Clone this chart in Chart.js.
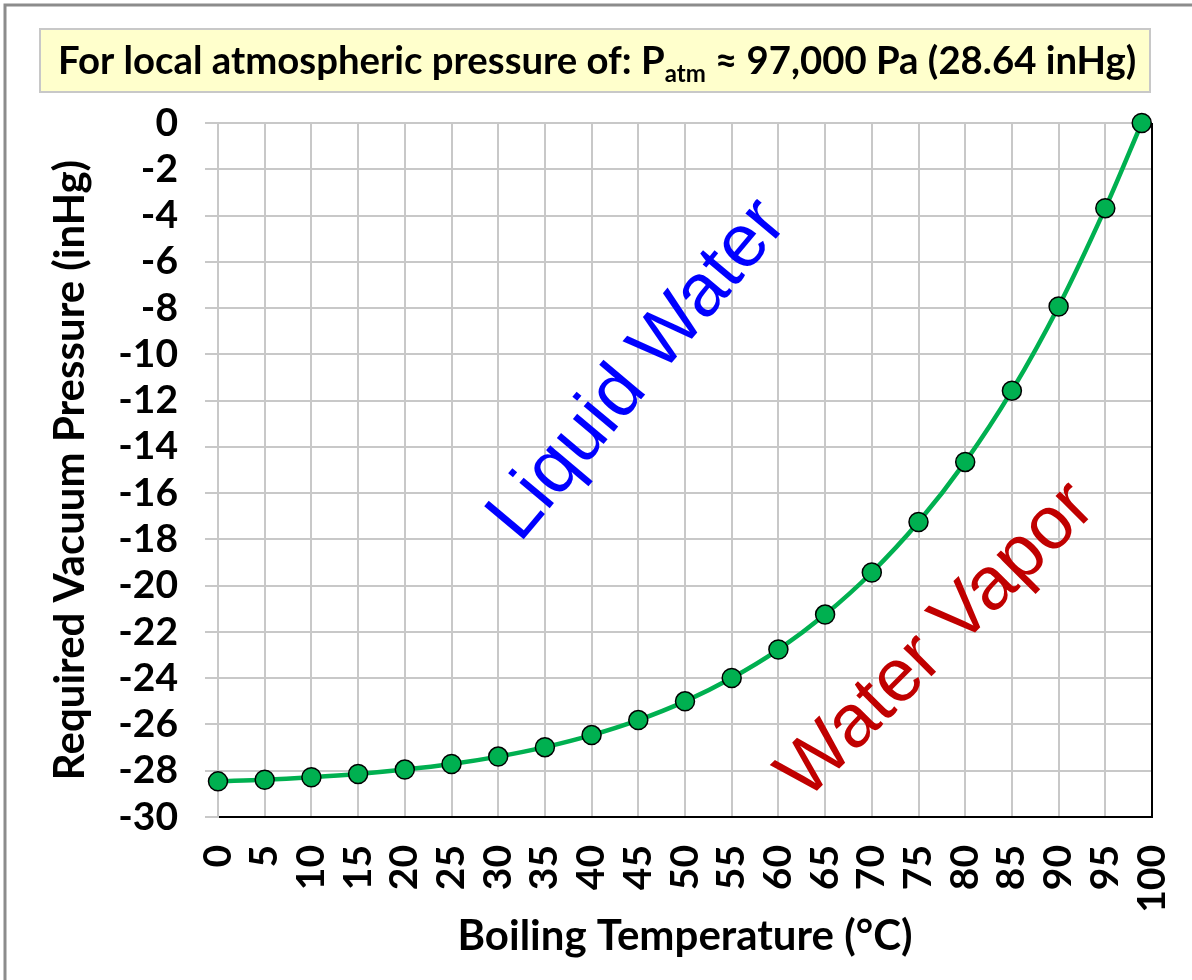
<!DOCTYPE html>
<html>
<head>
<meta charset="utf-8">
<script src="https://cdn.jsdelivr.net/npm/chart.js@4.4.1/dist/chart.umd.min.js"></script>
<style>
  html, body { margin: 0; padding: 0; background: #fff; }
  #wrap { width: 1192px; height: 980px; position: relative; }
</style>
</head>
<body>
<div id="wrap"><canvas id="myChart" width="1192" height="980"></canvas></div>
<script>
// Boiling temperature (°C) and required vacuum pressure (inHg)
const temps = [0, 5, 10, 15, 20, 25, 30, 35, 40, 45, 50, 55, 60, 65, 70, 75, 80, 85, 90, 95, 98.9];
const vacuum = [-28.46, -28.39, -28.28, -28.14, -27.95, -27.71, -27.39, -26.98, -26.46, -25.81,
                -25.00, -23.99, -22.76, -21.25, -19.43, -17.25, -14.65, -11.57, -7.93, -3.68, 0];

const titleMain = 'For local atmospheric pressure of: P';
const titleSub = 'atm';
const titleRest = ' \u2248 97,000 Pa (28.64 inHg)';

const xTitle = 'Boiling Temperature (\u00B0C)';
const yTitle = 'Required Vacuum Pressure (inHg)';

// region labels: [text, x value, y value, colour, angle]
const regionLabels = [
    ['Liquid Water', 45, -10.7, '#0000FF', -50],
    ['Water Vapor', 77, -22.4, '#C00000', -45]
];

const FONT = 'Lato, "Open Sans", sans-serif';
const gridColor = '#c8c8c8';

// frame, title box and region labels
const decorPlugin = {
    id: 'decor',
    beforeDraw(chart) {
        const c = chart.ctx;
        c.save();
        c.fillStyle = '#fff';
        c.fillRect(0, 0, chart.width, chart.height);
        c.strokeStyle = '#8c8c8c';
        c.lineWidth = 3;
        c.beginPath();
        c.moveTo(5, chart.height);
        c.lineTo(5, 5);
        c.lineTo(chart.width, 5);
        c.stroke();

        // title box
        c.fillStyle = '#FFFFCC';
        c.fillRect(40, 29, 1110, 63);
        c.strokeStyle = '#c8c8c8';
        c.lineWidth = 2;
        c.strokeRect(40, 29, 1110, 63);

        let size = 34;
        const measure = (s) => {
            c.font = 'bold ' + s + 'px ' + FONT;
            let w = c.measureText(titleMain).width + c.measureText(titleRest).width;
            c.font = 'bold ' + Math.round(s * 0.62) + 'px ' + FONT;
            return w + c.measureText(titleSub).width;
        };
        size = size * 1078 / measure(size);
        const base = 74;
        let x = 58;
        c.fillStyle = '#000';
        c.textBaseline = 'alphabetic';
        c.textAlign = 'left';
        c.font = 'bold ' + size + 'px ' + FONT;
        c.fillText(titleMain, x, base);
        x += c.measureText(titleMain).width;
        c.font = 'bold ' + Math.round(size * 0.62) + 'px ' + FONT;
        c.fillText(titleSub, x, base + 8);
        x += c.measureText(titleSub).width;
        c.font = 'bold ' + size + 'px ' + FONT;
        c.fillText(titleRest, x, base);
        c.restore();
    },
    beforeDatasetsDraw(chart) {
        const c = chart.ctx;
        const xs = chart.scales.x, ys = chart.scales.y;
        c.save();
        regionLabels.forEach(([txt, xv, yv, col, ang]) => {
            c.save();
            c.translate(xs.getPixelForValue(xv), ys.getPixelForValue(yv));
            c.rotate(ang * Math.PI / 180);
            c.font = '75px "Liberation Sans", Arial, sans-serif';
            c.fillStyle = col;
            c.textAlign = 'center';
            c.textBaseline = 'middle';
            c.fillText(txt, 0, 0);
            c.restore();
        });
        // right border of plot area
        const a = chart.chartArea;
        c.strokeStyle = '#000';
        c.lineWidth = 2;
        c.beginPath();
        c.moveTo(a.right, a.top);
        c.lineTo(a.right, a.bottom);
        c.stroke();
        c.restore();
    }
};

const ctx = document.getElementById('myChart').getContext('2d');

const myChart = new Chart(ctx, {
    type: 'scatter',
    data: {
        datasets: [{
            label: 'Vacuum',
            data: temps.map((t, i) => ({ x: t, y: vacuum[i] })),
            showLine: true,
            clip: false,
            borderColor: '#00B050',
            borderWidth: 4.5,
            tension: 0.35,
            pointRadius: 9.5,
            pointBackgroundColor: '#00B050',
            pointBorderColor: '#000',
            pointBorderWidth: 1.5
        }]
    },
    options: {
        responsive: false,
        animation: false,
        layout: { padding: { top: 123, right: 40, left: 0, bottom: 0 } },
        plugins: {
            legend: { display: false },
            tooltip: { enabled: false }
        },
        scales: {
            x: {
                type: 'linear',
                min: 0,
                max: 100,
                afterFit: (s) => { s.height = 163; s.paddingLeft = 0; s.paddingRight = 0; },
                ticks: {
                    stepSize: 5,
                    autoSkip: false,
                    minRotation: 90,
                    maxRotation: 90,
                    padding: 28,
                    color: '#000',
                    font: { family: FONT, size: 39, weight: 'bold' }
                },
                grid: { color: gridColor, lineWidth: 2, drawTicks: false },
                border: { color: '#000', width: 2 },
                title: {
                    display: true,
                    text: xTitle,
                    color: '#000',
                    padding: { top: 0, bottom: 18 },
                    font: { family: FONT, size: 42, weight: 'bold' }
                }
            },
            y: {
                min: -30,
                max: 0,
                afterFit: (s) => { s.width = 218; },
                ticks: {
                    stepSize: 2,
                    autoSkip: false,
                    padding: 27,
                    color: '#000',
                    font: { family: FONT, size: 39, weight: 'bold' }
                },
                grid: { color: gridColor, lineWidth: 2, tickLength: 13 },
                border: { color: gridColor, width: 2 },
                title: {
                    display: true,
                    text: yTitle,
                    color: '#000',
                    padding: { top: 45, bottom: 0 },
                    font: { family: FONT, size: 42, weight: 'bold' }
                }
            }
        }
    },
    plugins: [decorPlugin]
});
</script>
</body>
</html>
